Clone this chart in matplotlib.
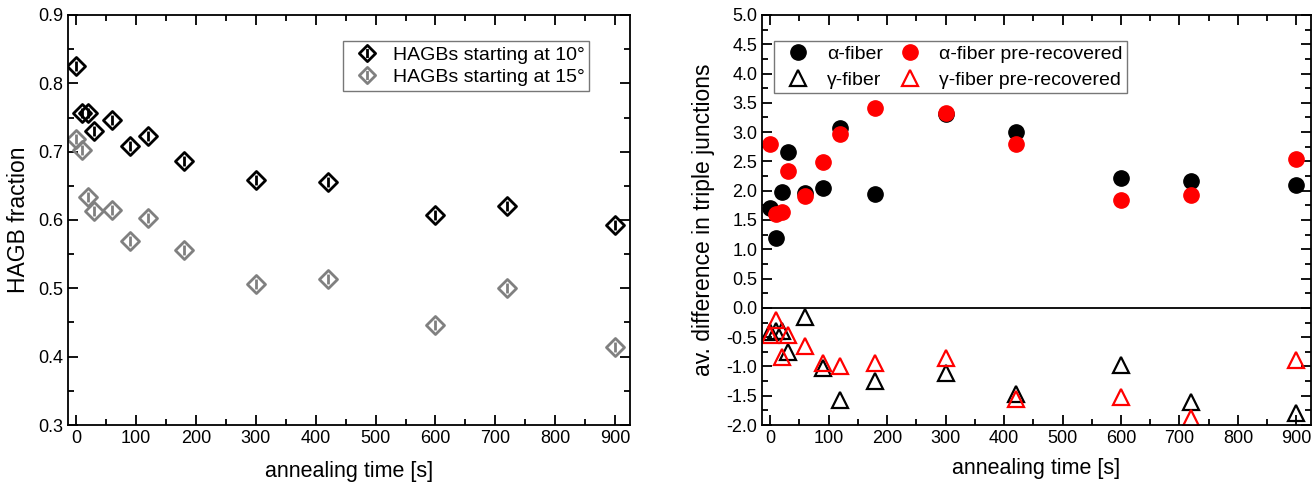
import numpy as np
import matplotlib
matplotlib.use("Agg")
from matplotlib import pyplot as plt
from matplotlib.path import Path
from matplotlib.ticker import MultipleLocator, FormatStrFormatter

plt.rcParams['font.family'] = ['Liberation Sans', 'DejaVu Sans']

# left panel: HAGB fraction vs annealing time
t_left = [0, 10, 20, 30, 60, 90, 120, 180, 300, 420, 600, 720, 900]
hagb_10 = [0.826, 0.757, 0.757, 0.730, 0.746, 0.708, 0.723, 0.686, 0.658, 0.656, 0.607, 0.621, 0.592]
hagb_15 = [0.719, 0.703, 0.633, 0.613, 0.614, 0.569, 0.603, 0.556, 0.507, 0.513, 0.446, 0.500, 0.414]

# right panel: av. difference in triple junctions
t_right = [0, 10, 20, 30, 60, 90, 120, 180, 300, 420, 600, 720, 900]
alpha = [1.70, 1.19, 1.98, 2.66, 1.96, 2.04, 3.07, 1.95, 3.31, 3.00, 2.22, 2.17, 2.10]
alpha_pre = [2.79, 1.60, 1.63, 2.34, 1.91, 2.49, 2.96, 3.42, 3.33, 2.80, 1.84, 1.93, 2.54]
gamma = [-0.42, -0.40, -0.40, -0.75, -0.15, -1.02, -1.57, -1.25, -1.12, -1.47, -0.98, -1.60, -1.80]
gamma_pre = [-0.47, -0.20, -0.84, -0.47, -0.65, -0.94, -1.00, -0.94, -0.86, -1.56, -1.52, -1.88, -0.89]

# diamond with a vertical bar inside
diamond_bar = Path(
    [(0, 1), (1, 0), (0, -1), (-1, 0), (0, 1), (0, 0.55), (0, -0.55)],
    [Path.MOVETO, Path.LINETO, Path.LINETO, Path.LINETO, Path.CLOSEPOLY,
     Path.MOVETO, Path.LINETO])

fig = plt.figure(figsize=(13.16, 4.91), dpi=100)
ax1 = fig.add_axes([68 / 1316, 66 / 491, 562 / 1316, 410 / 491])
ax2 = fig.add_axes([762 / 1316, 66 / 491, 549 / 1316, 410 / 491])

ax1.plot(t_left, hagb_10, ls='none', marker=diamond_bar, ms=13, mew=2,
         mfc='none', mec='black', label='HAGBs starting at 10°')
ax1.plot(t_left, hagb_15, ls='none', marker=diamond_bar, ms=13, mew=2,
         mfc='none', mec='#808080', label='HAGBs starting at 15°')
ax1.set_xlim(-14, 925)
ax1.set_ylim(0.3, 0.9)
ax1.xaxis.set_major_locator(MultipleLocator(100))
ax1.xaxis.set_minor_locator(MultipleLocator(50))
ax1.yaxis.set_major_locator(MultipleLocator(0.1))
ax1.yaxis.set_minor_locator(MultipleLocator(0.05))
ax1.set_xlabel('annealing time [s]', fontsize=15.5, labelpad=10)
ax1.set_ylabel('HAGB fraction', fontsize=16.5, labelpad=6)
ax1.legend(loc='upper right', fontsize=14, frameon=True, fancybox=False,
           edgecolor='#555555', handletextpad=0.3, borderpad=0.25,
           labelspacing=0.25, markerscale=0.9, bbox_to_anchor=(0.945, 0.96))

ax2.axhline(0, color='black', lw=1.3)
ax2.plot(t_right, alpha, ls='none', marker='o', ms=11, color='black', label='α-fiber')
ax2.plot(t_right, gamma, ls='none', marker='^', ms=11, mew=1.6, mfc='none',
         mec='black', label='γ-fiber')
ax2.plot(t_right, alpha_pre, ls='none', marker='o', ms=11, color='#ff0000',
         label='α-fiber pre-recovered')
ax2.plot(t_right, gamma_pre, ls='none', marker='^', ms=11, mew=1.6, mfc='none',
         mec='#ff0000', label='γ-fiber pre-recovered')
ax2.set_xlim(-14, 925)
ax2.set_ylim(-2.0, 5.0)
ax2.xaxis.set_major_locator(MultipleLocator(100))
ax2.xaxis.set_minor_locator(MultipleLocator(50))
ax2.yaxis.set_major_locator(MultipleLocator(0.5))
ax2.yaxis.set_minor_locator(MultipleLocator(0.25))
ax2.yaxis.set_major_formatter(FormatStrFormatter('%.1f'))
ax2.set_xlabel('annealing time [s]', fontsize=15.5, labelpad=8)
ax2.set_ylabel('av. difference in triple junctions', fontsize=16.5, labelpad=8)
ax2.legend(loc='upper left', ncol=2, fontsize=14, frameon=True, fancybox=False,
           edgecolor='#555555', handletextpad=0.5, borderpad=0.2,
           labelspacing=0.45, columnspacing=0.4, bbox_to_anchor=(0.005, 0.96))

for ax in (ax1, ax2):
    ax.tick_params(which='both', direction='in', top=True, right=True,
                   labelsize=13, width=1.3)
    ax.tick_params(which='major', length=7)
    ax.tick_params(which='minor', length=4)
    for s in ax.spines.values():
        s.set_linewidth(1.3)

fig.savefig('out.png', dpi=100)
